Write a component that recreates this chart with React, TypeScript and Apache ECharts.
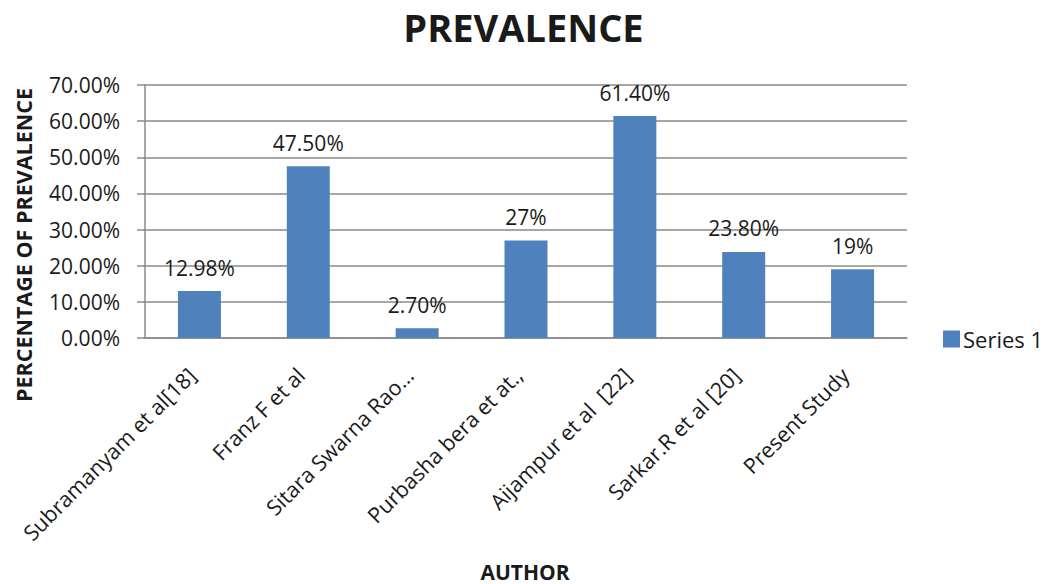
import React, { useEffect, useRef } from "react";
import * as echarts from "echarts";

const categories = [
  "Subramanyam et al[18]",
  "Franz F et al",
  "Sitara Swarna Rao…",
  "Purbasha bera et at.,",
  "Aijampur et al  [22]",
  "Sarkar.R et al [20]",
  "Present Study",
];
const values = [12.98, 47.5, 2.7, 27, 61.4, 23.8, 19];
const valueLabels = ["12.98%", "47.50%", "2.70%", "27%", "61.40%", "23.80%", "19%"];
const seriesName = "Series 1";
const titleText = "PREVALENCE";
const xAxisName = "AUTHOR";
const yAxisName = "PERCENTAGE OF PREVALENCE";
const yMin = 0;
const yMax = 70;
const yInterval = 10;

const FONT = "'Open Sans', 'Noto Sans', sans-serif";
const TEXT = "#1a1a1a";
const GRID = "#8a8a8a";
const BAR = "#4f81bd";

export default function App() {
  const ref = useRef<HTMLDivElement>(null);
  useEffect(() => {
    if (!ref.current) return;
    const chart = echarts.init(ref.current, undefined, { renderer: "svg" });
    chart.setOption({
      animation: false,
      backgroundColor: "#ffffff",
      title: {
        text: titleText,
        left: "center",
        top: 3,
        textStyle: { fontFamily: FONT, fontWeight: "bold", fontSize: 38, color: TEXT },
      },
      legend: {
        data: [seriesName],
        left: 938,
        top: 323,
        itemWidth: 17,
        itemHeight: 17,
        itemGap: 3,
        icon: "rect",
        textStyle: { fontFamily: FONT, fontSize: 22, color: TEXT, padding: [0, 0, 0, -2] },
      },
      grid: { left: 145, right: 140, top: 85, bottom: 246, containLabel: false },
      xAxis: {
        type: "category",
        data: categories,
        axisLine: { show: true, lineStyle: { color: GRID, width: 1.5 } },
        axisTick: { show: false },
        axisLabel: {
          interval: 0,
          rotate: 45,
          align: "right",
          verticalAlign: "bottom",
          margin: 41,
          fontFamily: FONT,
          fontSize: 21.5,
          color: TEXT,
        },
      },
      yAxis: {
        type: "value",
        min: yMin,
        max: yMax,
        interval: yInterval,
        axisLine: { show: true, lineStyle: { color: GRID, width: 1.5 } },
        axisTick: { show: true, length: 8, inside: false, lineStyle: { color: GRID, width: 1.5 } },
        splitLine: { show: true, lineStyle: { color: GRID, width: 1.5 } },
        axisLabel: {
          margin: 25,
          fontFamily: FONT,
          fontSize: 21,
          color: TEXT,
          formatter: (v: number) => v.toFixed(2) + "%",
        },
      },
      graphic: [
        {
          type: "text",
          x: 23,
          y: 245,
          rotation: Math.PI / 2,
          style: {
            text: yAxisName,
            fontFamily: FONT,
            fontWeight: "bold",
            fontSize: 21.5,
            fill: TEXT,
            align: "center",
            verticalAlign: "middle",
          },
        },
        {
          type: "text",
          x: 525,
          y: 572,
          style: {
            text: xAxisName,
            fontFamily: FONT,
            fontWeight: "bold",
            fontSize: 21,
            lineHeight: 21,
            fill: TEXT,
            align: "center",
            verticalAlign: "middle",
          },
        },
      ],
      series: [
        {
          name: seriesName,
          type: "bar",
          data: values,
          barWidth: 43,
          itemStyle: { color: BAR },
          label: {
            show: true,
            position: "top",
            distance: 13,
            fontFamily: FONT,
            fontSize: 21,
            color: TEXT,
            formatter: (p: any) => valueLabels[p.dataIndex],
          },
        },
      ],
    });
    return () => chart.dispose();
  }, []);
  return (
    <div
      ref={ref}
      style={{ position: "fixed", left: 0, top: 0, width: 1047, height: 584 }}
    />
  );
}
